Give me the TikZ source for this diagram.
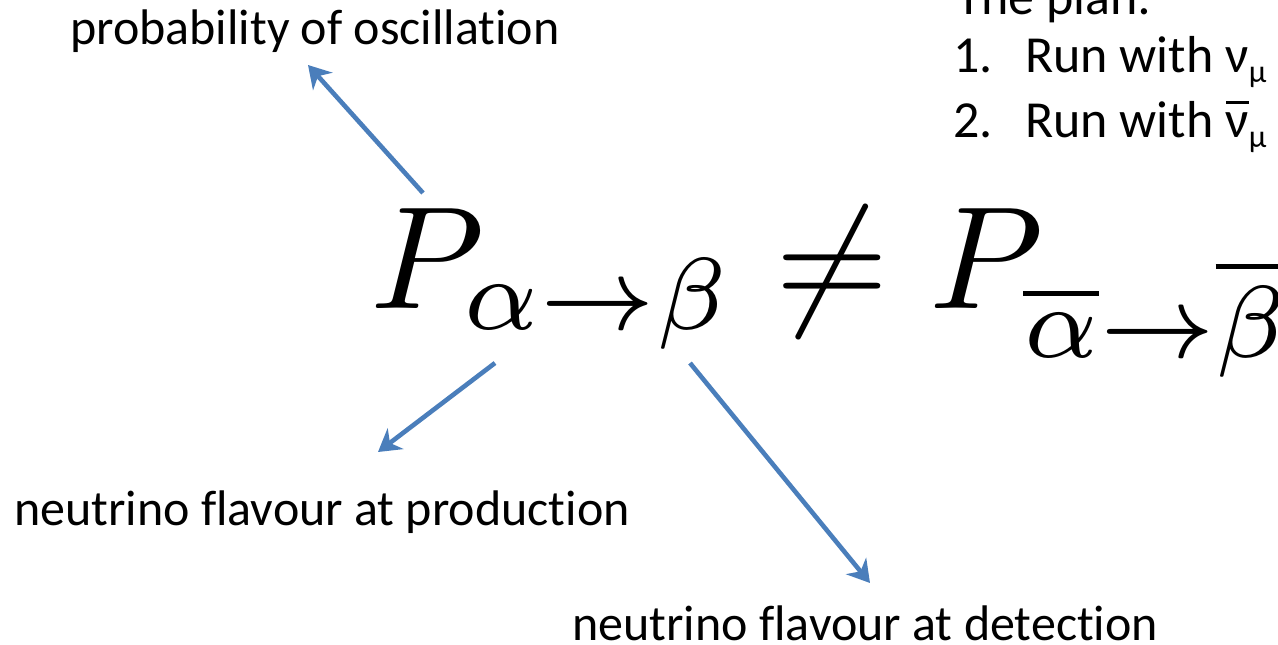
\documentclass[tikz,border=0pt]{standalone}
\usepackage{graphicx}
\usepackage{fontspec}
\setmainfont{Carlito}[Ligatures={NoCommon,NoContextual}]
\usetikzlibrary{arrows.meta}
\definecolor{arrowblue}{RGB}{74,126,187}
\tikzset{
  lbl/.style={anchor=base west, inner sep=0pt, font=\fontsize{50}{60}\selectfont},
  plan/.style={anchor=base west, inner sep=0pt, font=\fontsize{52}{62}\selectfont},
  pointer/.style={draw=arrowblue, line width=4.6pt, -{Stealth[length=22pt,width=26pt,inset=7pt]}},
  formula/.style={anchor=base west, inner sep=0pt, font=\fontsize{10}{12}\selectfont},
}
\newcommand{\mysub}{\raisebox{-10pt}{\fontsize{32}{32}\selectfont μ}}
\newcommand{\barnu}{\rlap{\hspace{1pt}\rule[33pt]{23pt}{3pt}}ν}
\begin{document}
\begin{tikzpicture}[x=1pt,y=-1pt]
\useasboundingbox (0,0) rectangle (1278,645);
\clip (0,0) rectangle (1278,645);
% formula
\node[formula] (eq) at (370,308) {\scalebox{14.6}{$P_{\alpha\to\beta}\neq P_{\overline{\alpha}\to\overline{\beta}}$}};
% labels
\node[lbl] (prob) at (70,45) {probability of oscillation};
\node[lbl] (prod) at (14,525) {neutrino flavour at production};
\node[lbl] (det) at (572,640) {neutrino flavour at detection};
% plan
\node[plan] (title) at (956,14) {The plan:};
\node[plan] (n1) at (953,72) {1.};
\node[plan] (r1) at (1025,72) {Run with ν\mysub};
\node[plan] (n2) at (953,137) {2.};
\node[plan] (r2) at (1025,137) {Run with \barnu\mysub};
% arrows
\coordinate (a1s) at (423,193); \coordinate (a1e) at (308,65);
\coordinate (a2s) at (495,363); \coordinate (a2e) at (378,452);
\coordinate (a3s) at (690,363); \coordinate (a3e) at (870,583);
\draw[pointer] (a1s) -- (a1e);
\draw[pointer] (a2s) -- (a2e);
\draw[pointer] (a3s) -- (a3e);
\end{tikzpicture}
\end{document}
